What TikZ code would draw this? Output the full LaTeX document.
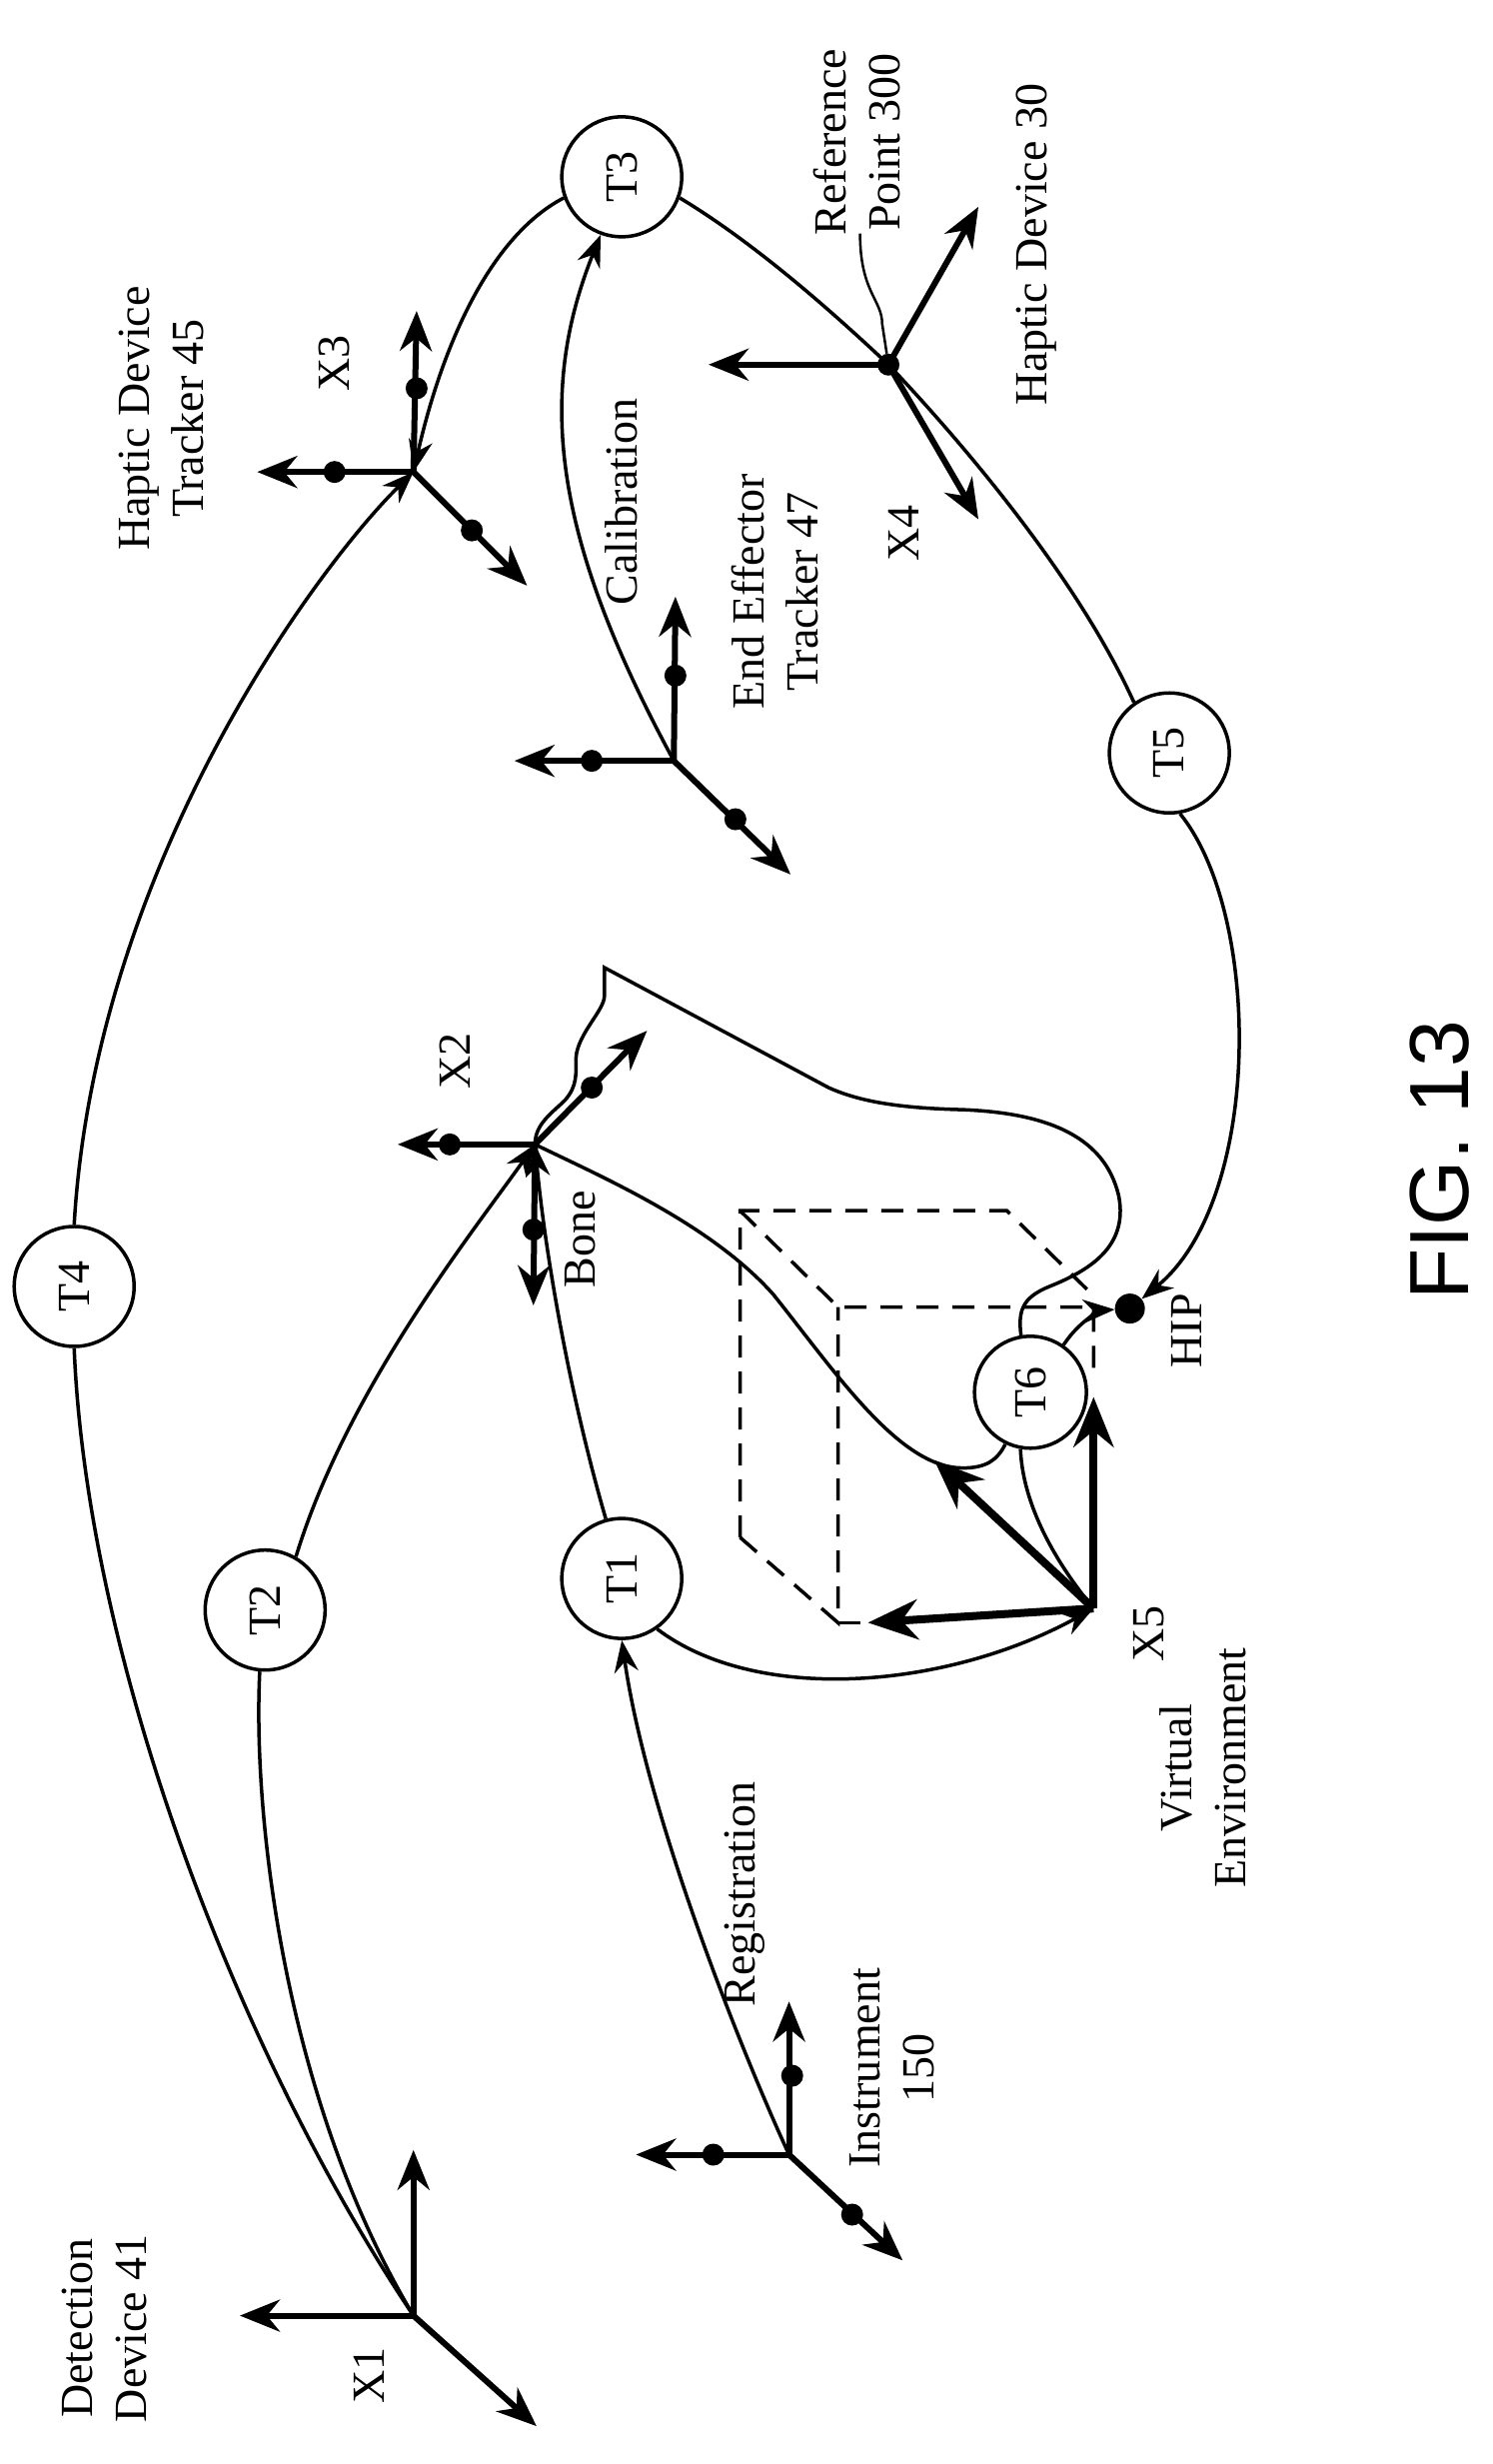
\documentclass[tikz,border=0pt]{standalone}
\usepackage{fontspec}
\setmainfont{Liberation Serif}
\setsansfont{Liberation Sans}
\usetikzlibrary{arrows.meta}
\begin{document}
\begin{tikzpicture}[x=1.579pt,y=-1.579pt,
  conn/.style={line width=3.5pt},
  arr/.style={conn,-{Stealth[length=32pt,width=24pt]}},
  ax/.style={line width=6pt,-{Stealth[length=40pt,width=32pt]}},
  bax/.style={line width=8pt,-{Stealth[length=50pt,width=40pt]}},
  tnode/.style={circle,draw,fill=white,line width=3.5pt,minimum size=120pt,inner sep=0pt,font=\fontsize{46}{50}\selectfont},
  lbl/.style={rotate=90,font=\fontsize{46}{54}\selectfont,align=center},
  dot/.style={circle,fill,inner sep=0pt,minimum size=22pt},
  cube/.style={line width=3.5pt,dash pattern=on 22pt off 14pt}]
\useasboundingbox (0,0) rectangle (946,1561);
% origins
\coordinate (o1) at (262,1467);
\coordinate (oi) at (500,1365);
\coordinate (o2) at (339,725);
\coordinate (o3) at (262,299);
\coordinate (oe) at (427,482);
\coordinate (o4) at (563,231);
\coordinate (o5) at (693,1019);
% cube
\draw[cube] (469,974) -- (469,767) -- (638,767) -- (690,818);
\draw[cube] (469,767) -- (531,828) -- (693,828) -- (693,868);
\draw[cube] (469,974) -- (531,1028) -- (531,828);
\draw[cube] (531,1028) -- (552,1028);
% bone
\draw[conn] (o2) .. controls (339,712) and (350,705) .. (358,697)
  .. controls (366,688) and (365,680) .. (365,670)
  .. controls (366,655) and (383,640) .. (383,631) -- (383,613)
  -- (525,689) .. controls (545,698) and (570,702) .. (610,703)
  .. controls (660,705) and (700,718) .. (709,758)
  .. controls (715,790) and (690,805) .. (665,815)
  .. controls (648,822) and (645,830) .. (647,846);
\draw[conn] (o2) .. controls (380,745) and (450,775) .. (490,820)
  .. controls (530,870) and (570,930) .. (610,930)
  .. controls (625,930) and (632,925) .. (637,915);
% tracker nodes
\node[tnode] (T1) at (394,1000) {\rotatebox{90}{T1}};
\node[tnode] (T2) at (168,1020) {\rotatebox{90}{T2}};
\node[tnode] (T3) at (394,112) {\rotatebox{90}{T3}};
\node[tnode] (T4) at (47,815) {\rotatebox{90}{T4}};
\node[tnode] (T5) at (741,477) {\rotatebox{90}{T5}};
\node[tnode,minimum size=112pt] (T6) at (653,882) {\rotatebox{90}{T6}};
\node[dot,minimum size=30pt] (hip) at (716,829) {};
% axes X1
\draw[ax] (o1) -- (262,1362);
\draw[ax] (o1) -- (152,1467);
\draw[ax] (o1) -- (340,1537);
% instrument
\draw[ax] (oi) -- (500,1268); \node[dot] at (502,1315) {};
\draw[ax] (oi) -- (403,1365); \node[dot] at (452,1365) {};
\draw[ax] (oi) -- (572,1432); \node[dot] at (540,1403) {};
% X2
\draw[ax] (o2) -- (252,725); \node[dot] at (285,725) {};
\draw[ax] (o2) -- (410,653); \node[dot] at (375,689) {};
\draw[ax] (o2) -- (338,827); \node[dot] at (338,779) {};
% X3
\draw[ax] (o3) -- (264,197); \node[dot] at (264,246) {};
\draw[ax] (o3) -- (163,299); \node[dot] at (212,299) {};
\draw[ax] (o3) -- (334,371); \node[dot] at (299,336) {};
% end effector
\draw[ax] (oe) -- (428,378); \node[dot] at (428,428) {};
\draw[ax] (oe) -- (326,482); \node[dot] at (375,482) {};
\draw[ax] (oe) -- (501,554); \node[dot] at (466,519) {};
% X4
\draw[ax] (o4) -- (449,231);
\draw[ax] (o4) -- (620,131);
\draw[ax] (o4) -- (620,329);
\node[dot] (rp) at (o4) {};
% X5
\draw[bax] (o5) -- (693,885);
\draw[bax] (o5) -- (592,925);
\draw[bax] (o5) -- (550,1028);
% connectors
\draw[conn] (o1) .. controls (180,1330) and (160,1150) .. (T2.-95);
\draw[conn] (o1) .. controls (150,1300) and (55,1050) .. (T4.south);
\draw[arr] (T4.north) .. controls (60,550) and (200,360) .. (o3);
\draw[arr] (T2.60) .. controls (220,880) and (300,780) .. (o2);
\draw[arr] (T1.105) .. controls (360,880) and (345,790) .. (o2);
\draw[arr] (oi) .. controls (470,1300) and (410,1150) .. (T1.south);
\draw[arr] (T1.-55) .. controls (480,1080) and (600,1070) .. (o5);
\draw[conn] (o5) .. controls (665,985) and (648,950) .. (T6.-100);
\draw[arr] (T6.55) .. controls (685,835) and (700,830) .. (hip);
\draw[arr] (T5.-80) .. controls (800,580) and (800,760) .. (hip);
\draw[arr] (T3.200) .. controls (310,150) and (280,220) .. (o3);
\draw[arr] (oe) .. controls (350,340) and (340,250) .. (T3.-110);
\draw[conn] (T3.-20) .. controls (480,155) and (530,200) .. (o4)
  .. controls (600,270) and (680,360) .. (T5.125);
\coordinate (lead) at (545,148);
\draw[line width=2.5pt] (rp) -- (559,205) .. controls (559,190) and (545,185) .. (lead);
% labels
\node[lbl] (l1) at (66,1475) {Detection\\Device 41};
\node[lbl] (lx1) at (234,1505) {X1};
\node[lbl] (linst) at (565,1310) {Instrument\\150};
\node[lbl] (lreg) at (472,1200) {Registration};
\node[lbl] (lve) at (762,1120) {Virtual\\Environment};
\node[lbl] (lx5) at (728,1035) {X5};
\node[lbl] (lhip) at (752,843) {HIP};
\node[lbl] (lbone) at (368,785) {Bone};
\node[lbl] (lx2) at (288,672) {X2};
\node[lbl] (lhdt) at (102,265) {Haptic Device\\Tracker 45};
\node[lbl] (lx3) at (212,230) {X3};
\node[lbl] (lcal) at (394,318) {Calibration};
\node[lbl] (lee) at (491,375) {End Effector\\Tracker 47};
\node[lbl] (lx4) at (573,338) {X4};
\node[lbl] (lrp) at (543,90) {Reference\\Point 300};
\node[lbl] (lhd) at (657,155) {Haptic Device 30};
\node[rotate=90,font=\sffamily\fontsize{84}{90}\selectfont] (fig) at (912,735) {FIG. 13};
\end{tikzpicture}
\end{document}
